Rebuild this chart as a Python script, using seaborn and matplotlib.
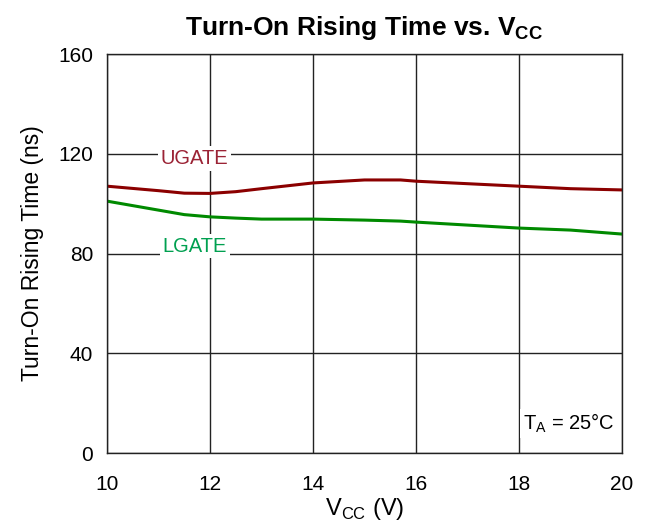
import seaborn as sns
import pandas as pd
from matplotlib import pyplot as plt

# Values
vcc = [10, 11, 11.5, 12, 12.5, 13, 14, 15, 15.7, 16, 17, 18, 19, 20]
ugate = [107, 105.2, 104.2, 104.1, 104.8, 106, 108.3, 109.5, 109.5, 109, 108, 107, 106, 105.5]
lgate = [101, 97.4, 95.6, 94.7, 94.2, 93.8, 93.8, 93.4, 93.0, 92.6, 91.4, 90.2, 89.4, 87.8]

df = pd.DataFrame({"vcc": vcc, "UGATE": ugate, "LGATE": lgate})

sns.set_style("white")
plt.rcParams['font.family'] = ['Liberation Sans', 'DejaVu Sans']
plt.rcParams['text.color'] = 'black'
plt.rcParams['axes.labelcolor'] = 'black'
plt.rcParams['xtick.color'] = 'black'
plt.rcParams['ytick.color'] = 'black'
plt.rcParams['mathtext.fontset'] = 'custom'
plt.rcParams['mathtext.rm'] = 'Liberation Sans'
plt.rcParams['mathtext.bf'] = 'Liberation Sans:bold'

fig = plt.figure(figsize=(6.53, 5.28), dpi=100)
ax = fig.add_axes([0.1639, 0.142, 0.7886, 0.7557])

sns.lineplot(data=df, x="vcc", y="UGATE", color="#8b0000", linewidth=2.2, ax=ax)
sns.lineplot(data=df, x="vcc", y="LGATE", color="#008a00", linewidth=2.2, ax=ax)

ax.set_xlim(10, 20)
ax.set_ylim(0, 160)
ax.set_xticks([10, 12, 14, 16, 18, 20])
ax.set_yticks([0, 40, 80, 120, 160])
ax.grid(True, color="#222222", linewidth=1)
ax.set_axisbelow(True)
for s in ax.spines.values():
    s.set_color("#222222")
    s.set_linewidth(1)
ax.tick_params(axis="x", labelsize=15, length=0, pad=16)
ax.tick_params(axis="y", labelsize=15, length=0, pad=10)

ax.set_xlabel("V$_{\\mathregular{CC}}$ (V)", fontsize=17, labelpad=1)
ax.set_ylabel("Turn-On Rising Time (ns)", fontsize=16.5, labelpad=10)
ax.set_title("Turn-On Rising Time vs. V$_{\\mathbf{CC}}$", fontsize=19,
             fontweight="bold", pad=14)

ax.text(11.7, 118, "UGATE", color="#9b2335", fontsize=14.5, ha="center", va="center",
        bbox=dict(facecolor="white", edgecolor="none", pad=2))
ax.text(11.7, 83, "LGATE", color="#00a050", fontsize=14.5, ha="center", va="center",
        bbox=dict(facecolor="white", edgecolor="none", pad=2))

ax.text(18.97, 12, "T$_{\\mathregular{A}}$ = 25°C", fontsize=14.5, ha="center", va="center",
        bbox=dict(facecolor="white", edgecolor="none", pad=2))

fig.savefig("out.png", dpi=100)
